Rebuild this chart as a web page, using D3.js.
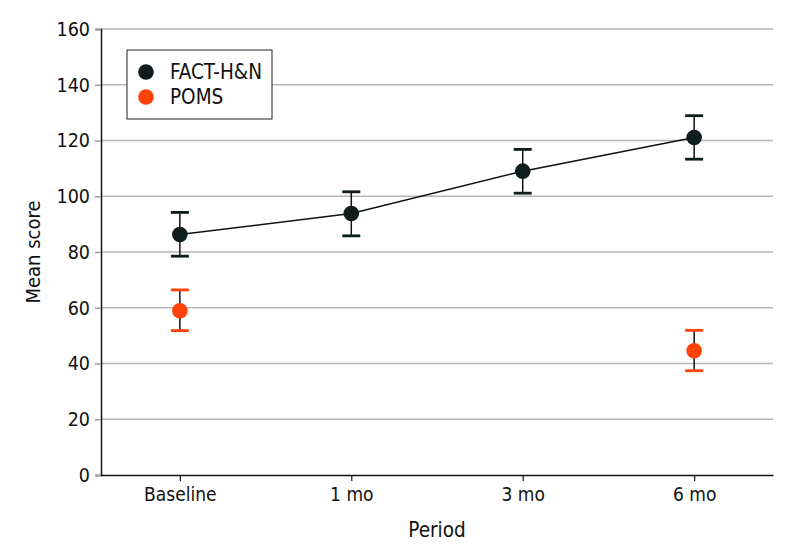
<!DOCTYPE html>
<html>
<head>
<meta charset="utf-8">
<script src="https://cdn.jsdelivr.net/npm/d3@7"></script>
<style>
  body { margin: 0; background: #fff; }
  svg text { font-family: "DejaVu Sans Condensed", "DejaVu Sans", sans-serif; font-stretch: condensed; fill: #111; }
</style>
</head>
<body>
<svg id="chart" width="794" height="559"></svg>
<script>
const periods = ["Baseline", "1 mo", "3 mo", "6 mo"];
const yTicks = [0, 20, 40, 60, 80, 100, 120, 140, 160];

// FACT-H&N, all four periods
const factMean = [86.3, 93.8, 109.0, 121.1];
const factLow = [78.5, 85.8, 101.1, 113.3];
const factHigh = [94.2, 101.6, 116.8, 128.9];

// POMS, baseline and 6 mo only
const pomsPeriods = ["Baseline", "6 mo"];
const pomsMean = [58.9, 44.6];
const pomsLow = [51.8, 37.4];
const pomsHigh = [66.4, 51.9];

const factColor = "#0e1c1c";
const pomsColor = "#ff4208";
const fontStack = "DejaVu Sans Condensed, DejaVu Sans, sans-serif";

const svg = d3.select("#chart");
const margin = { top: 29, right: 21, bottom: 84, left: 101 };
const width = 794 - margin.left - margin.right;
const height = 559 - margin.top - margin.bottom;

const g = svg.append("g").attr("transform", `translate(${margin.left},${margin.top})`);

const x = d3.scalePoint().domain(periods).range([0, width]).padding(0.46);
const y = d3.scaleLinear().domain([0, 160]).range([height, 0]);

// gridlines
g.selectAll(".grid")
  .data(yTicks.filter(d => d > 0))
  .join("line")
  .attr("x1", 0).attr("x2", width)
  .attr("y1", d => y(d)).attr("y2", d => y(d))
  .attr("stroke", "#b5b5b5").attr("stroke-width", 1.5);

// y axis
const yAxis = g.append("g").call(d3.axisLeft(y).tickValues(yTicks).tickSize(6).tickPadding(5));
yAxis.attr("font-family", fontStack).attr("font-size", 19.5);
yAxis.select(".domain").attr("stroke", "#111").attr("stroke-width", 1.5);
yAxis.selectAll(".tick line").attr("stroke", "#999").attr("stroke-width", 1.5);
yAxis.selectAll(".tick text").attr("fill", "#111");

// x axis
const xAxis = g.append("g").attr("transform", `translate(0,${height})`)
  .call(d3.axisBottom(x).tickSize(6).tickPadding(7).tickSizeOuter(0));
xAxis.attr("font-family", fontStack).attr("font-size", 19);
xAxis.select(".domain").attr("stroke", "#111").attr("stroke-width", 1.5);
xAxis.selectAll(".tick line").attr("stroke", "#111").attr("stroke-width", 1.2);
xAxis.selectAll(".tick text").attr("fill", "#111");

// axis titles
svg.append("text")
  .attr("x", margin.left + width / 2).attr("y", 537)
  .attr("text-anchor", "middle").attr("font-size", 20.5)
  .text("Period");
svg.append("text")
  .attr("transform", `translate(40,${margin.top + height / 2}) rotate(-90)`)
  .attr("text-anchor", "middle").attr("font-size", 20)
  .text("Mean score");

// connecting line for FACT-H&N
const line = d3.line().x((d, i) => x(periods[i])).y(d => y(d));
g.append("path")
  .datum(factMean)
  .attr("d", line)
  .attr("fill", "none")
  .attr("stroke", "#111")
  .attr("stroke-width", 1.5);

function drawSeries(cats, mean, low, high, color) {
  const data = cats.map((c, i) => ({ c, m: mean[i], lo: low[i], hi: high[i] }));
  const s = g.append("g");
  s.selectAll(".err")
    .data(data).join("line")
    .attr("x1", d => x(d.c)).attr("x2", d => x(d.c))
    .attr("y1", d => y(d.lo)).attr("y2", d => y(d.hi))
    .attr("stroke", "#111").attr("stroke-width", 1.5);
  ["lo", "hi"].forEach(k => {
    s.selectAll(".cap-" + k)
      .data(data).join("line")
      .attr("x1", d => x(d.c) - 9).attr("x2", d => x(d.c) + 9)
      .attr("y1", d => y(d[k])).attr("y2", d => y(d[k]))
      .attr("stroke", color).attr("stroke-width", 2.8);
  });
  s.selectAll("circle")
    .data(data).join("circle")
    .attr("cx", d => x(d.c)).attr("cy", d => y(d.m))
    .attr("r", 7.8).attr("fill", color);
}

drawSeries(periods, factMean, factLow, factHigh, factColor);
drawSeries(pomsPeriods, pomsMean, pomsLow, pomsHigh, pomsColor);

// legend
const legend = svg.append("g").attr("transform", "translate(127,50)");
legend.append("rect")
  .attr("width", 145).attr("height", 69)
  .attr("fill", "#fff").attr("stroke", "#222").attr("stroke-width", 1);
const legendItems = [["FACT-H&N", factColor], ["POMS", pomsColor]];
legend.selectAll(".item")
  .data(legendItems).join("g")
  .attr("transform", (d, i) => `translate(19,${22 + i * 25})`)
  .each(function (d) {
    const item = d3.select(this);
    item.append("circle").attr("r", 7.8).attr("fill", d[1]);
    item.append("text").attr("x", 24).attr("y", 7).attr("font-size", 20.5).text(d[0]);
  });
</script>
</body>
</html>
